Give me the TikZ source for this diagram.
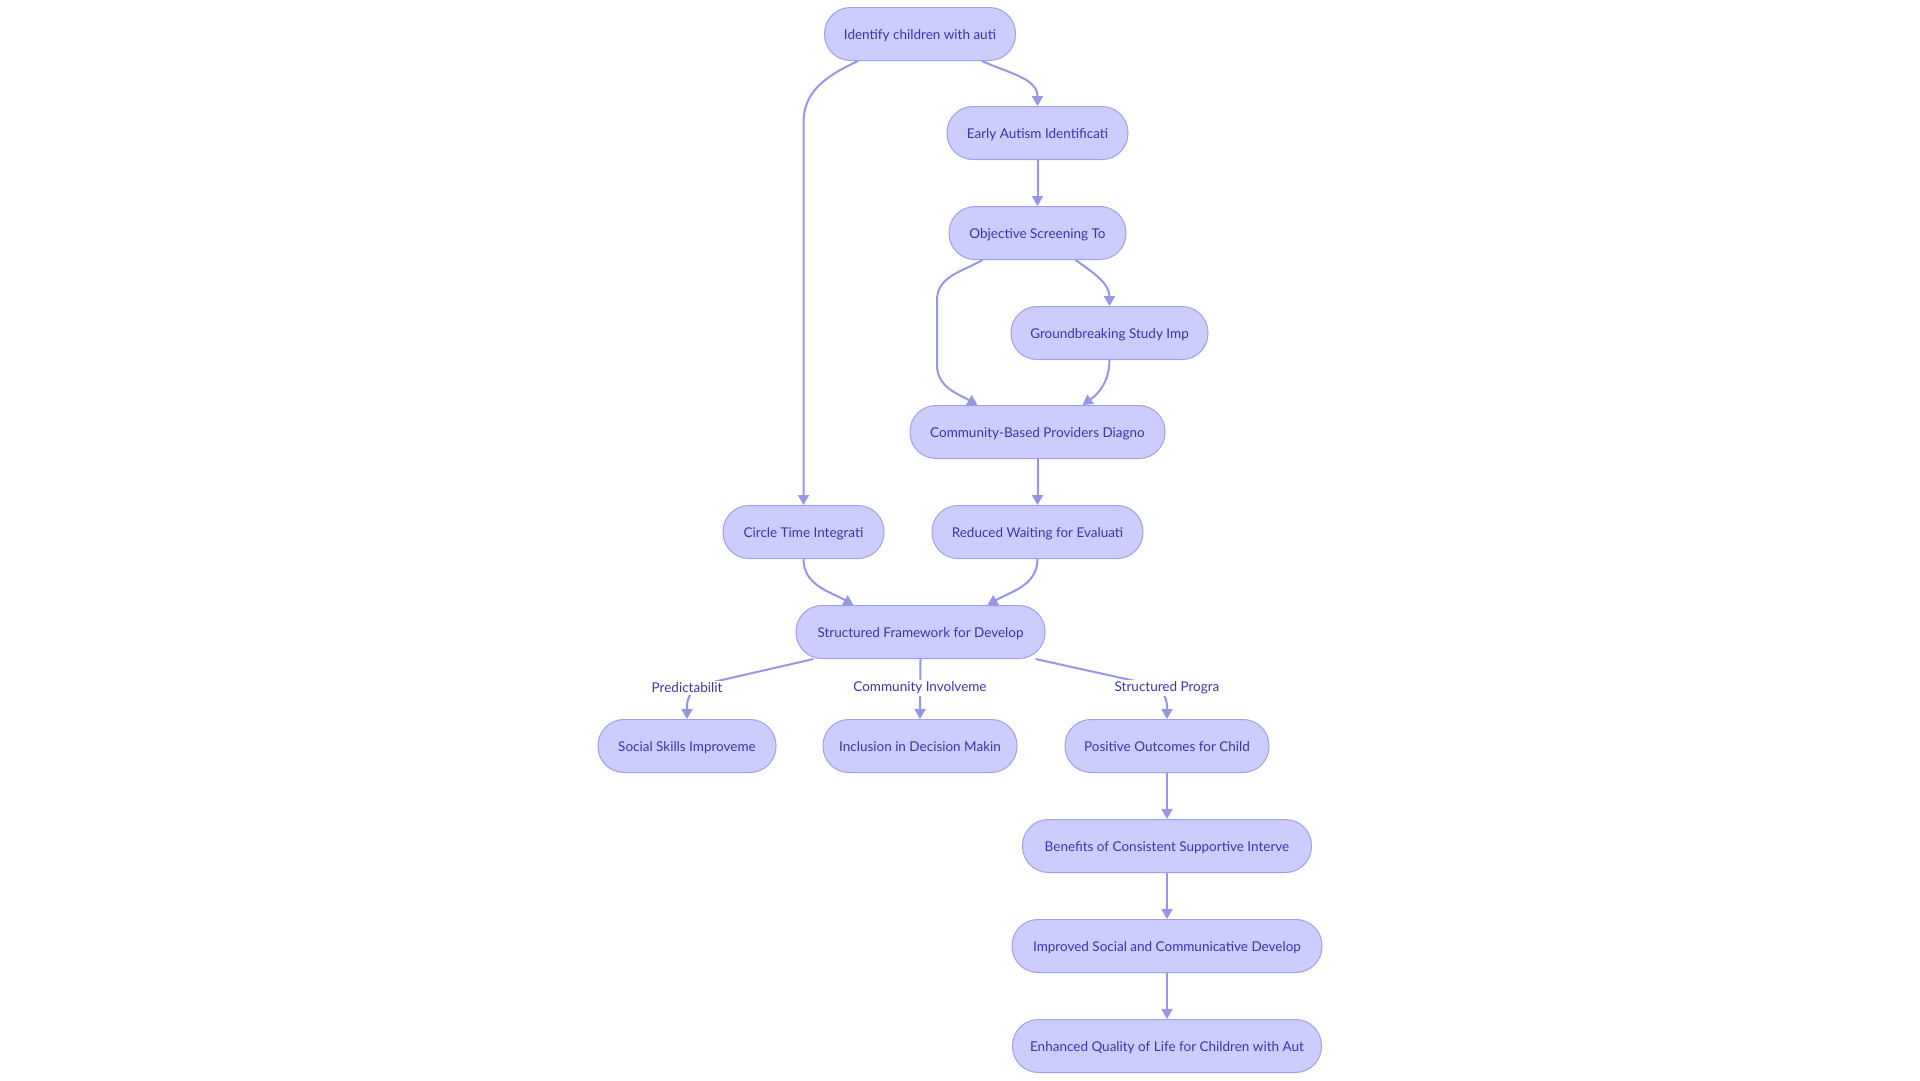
\documentclass[tikz,border=0pt]{standalone}
\usepackage{fontspec}
\setmainfont{Lato}
\usepackage{tikz}
\usetikzlibrary{arrows.meta}
\definecolor{boite}{RGB}{204,204,255}
\definecolor{bord}{RGB}{160,160,230}
\definecolor{texte}{RGB}{55,55,170}
\definecolor{trait}{RGB}{150,150,228}

\begin{document}
\begin{tikzpicture}[x=1pt, y=-1pt, line width=2pt,
  etape/.style={draw=bord, line width=1pt, fill=boite, rounded corners=26pt,
    minimum height=53pt, inner sep=0pt, text height=10pt, text depth=0pt,
    text=texte, font=\fontsize{13.5}{16}\selectfont},
  lien/.style={draw=trait, line width=2pt, -{Triangle[length=10pt,width=11pt]}},
  etiq/.style={fill=white, inner sep=1.5pt, text=texte, font=\fontsize{13.5}{16}\selectfont}]
\useasboundingbox (0,0) rectangle (1920,1080);
% Etapes du haut
\node[etape, minimum width=191pt] (ident) at (920,34) {Identify children with auti};
\node[etape, minimum width=181pt] (early) at (1037.5,133) {Early Autism Identificati};
\node[etape, minimum width=177pt] (obj) at (1037.5,233) {Objective Screening To};
\node[etape, minimum width=197pt] (ground) at (1109.5,333) {Groundbreaking Study Imp};
\node[etape, minimum width=255pt] (comm) at (1037.5,432) {Community-Based Providers Diagno};
\node[etape, minimum width=161pt] (circle) at (803.5,532) {Circle Time Integrati};
\node[etape, minimum width=211pt] (reduced) at (1037.5,532) {Reduced Waiting for Evaluati};
\node[etape, minimum width=249pt] (frame) at (920.5,632) {Structured Framework for Develop};
% Etapes du bas
\node[etape, minimum width=178pt] (social) at (687,746) {Social Skills Improveme};
\node[etape, minimum width=194pt] (incl) at (920,746) {Inclusion in Decision Makin};
\node[etape, minimum width=204pt] (pos) at (1167,746) {Positive Outcomes for Child};
\node[etape, minimum width=289pt] (ben) at (1167,846) {Benefits of Consistent Supportive Interve};
\node[etape, minimum width=310pt] (impr) at (1167,946) {Improved Social and Communicative Develop};
\node[etape, minimum width=309pt] (enh) at (1167,1046) {Enhanced Quality of Life for Children with Aut};
% Liens
\draw[lien] ([xshift=62pt]ident.south) to[out=-25,in=90] (early.north);
\draw[lien] ([xshift=-62pt]ident.south) to[out=-155,in=90] (circle.north |- 0,122) -- (circle.north);
\draw[lien] (early.south) -- (obj.north);
\draw[lien] ([xshift=38pt]obj.south) to[out=-35,in=90] (ground.north);
\coordinate (c1) at (937,300);
\coordinate (c2) at (937,365);
\draw[lien] ([xshift=-55pt]obj.south) to[out=-150,in=90] (c1) -- (c2) to[out=-90,in=150] ([xshift=-60pt]comm.north);
\draw[lien] (ground.south) to[out=-90,in=35] ([xshift=45pt]comm.north);
\draw[lien] (comm.south) -- (reduced.north);
\draw[lien] (circle.south) to[out=-90,in=150] ([xshift=-67pt]frame.north);
\draw[lien] (reduced.south) to[out=-90,in=30] ([xshift=67pt]frame.north);
% Liens avec etiquettes
\coordinate (lp) at (687,688);
\coordinate (lc) at (920,688);
\coordinate (ls) at (1167,688);
\draw[lien, rounded corners=18pt] ([xshift=-107pt]frame.south) -- (lp) -- (social.north);
\draw[lien] (frame.south) -- (incl.north);
\draw[lien, rounded corners=18pt] ([xshift=115pt]frame.south) -- (ls) -- (pos.north);
\node[etiq] at (lp) {Predictabilit};
\node[etiq] at (lc) {Community Involveme};
\node[etiq] at (ls) {Structured Progra};
% Fin
\draw[lien] (pos.south) -- (ben.north);
\draw[lien] (ben.south) -- (impr.north);
\draw[lien] (impr.south) -- (enh.north);
\end{tikzpicture}
\end{document}
